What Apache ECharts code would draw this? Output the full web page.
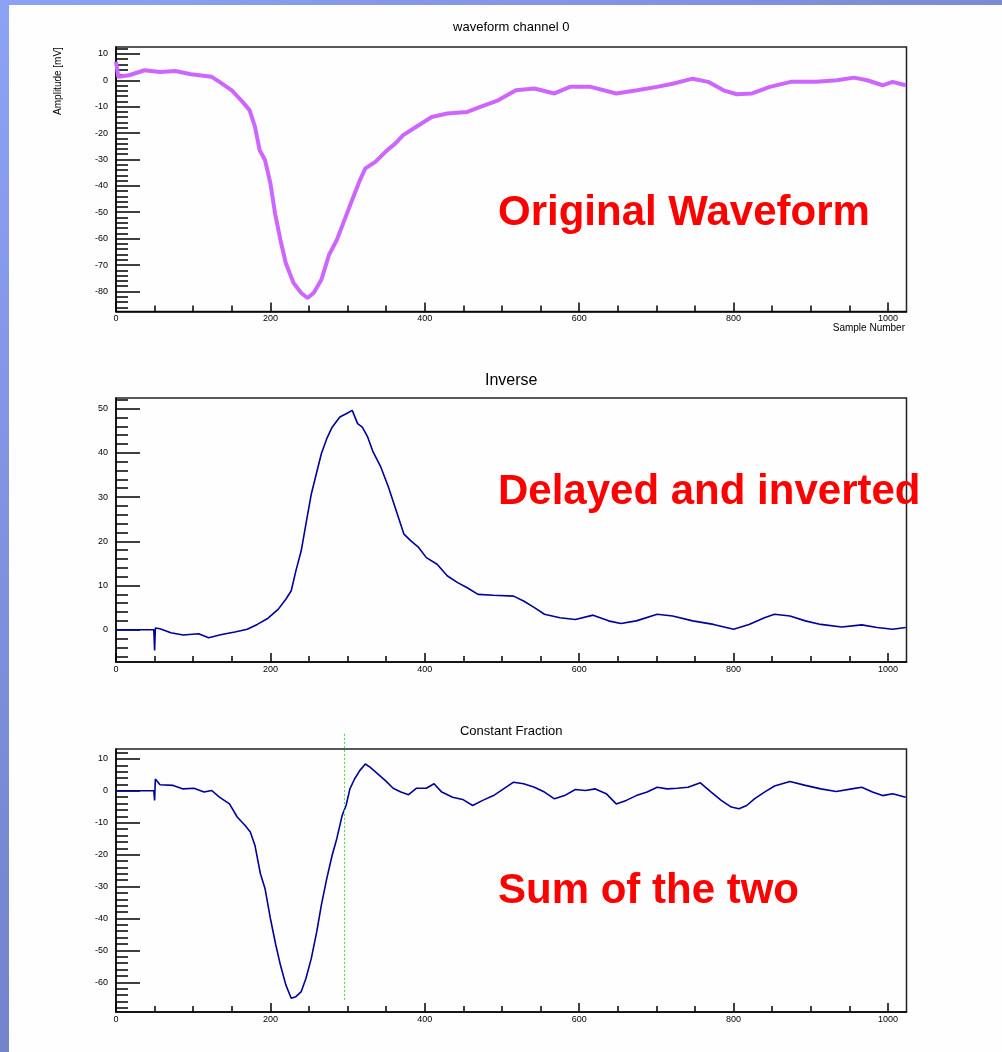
<!DOCTYPE html>
<html>
<head>
<meta charset="utf-8">
<title>waveform channel 0</title>
<script src="https://cdn.jsdelivr.net/npm/echarts@6/dist/echarts.min.js"></script>
<style>
  html, body { margin: 0; padding: 0; background: #fefefe; }
  #main { width: 1002px; height: 1052px; }
</style>
</head>
<body>
<div id="main"></div>
<script>
// values (sample number / amplitude in mV)
const waveX = [0, 3, 17, 37, 57, 77, 97, 124, 134, 150, 164, 173, 180, 186, 193, 200, 206, 213, 220, 230, 240, 248, 256, 266, 276, 286, 296, 306, 316, 323, 336, 349, 362, 372, 389, 409, 429, 455, 472, 495, 518, 542, 568, 588, 615, 648, 675, 701, 721, 747, 767, 787, 804, 824, 847, 874, 907, 934, 956, 973, 993, 1006, 1023];
const waveY = [7, 1.3, 1.9, 3.8, 3.1, 3.5, 2.3, 1.3, -0.6, -3.8, -8.2, -11.3, -17.6, -26.4, -30.2, -39, -50.4, -60.5, -69.3, -76.8, -80.6, -82.5, -80.6, -75.6, -66.1, -60.5, -52.9, -45.3, -37.8, -33.4, -30.9, -27.1, -23.9, -20.8, -17.6, -13.9, -12.6, -12, -10.1, -7.6, -3.8, -3.1, -5, -2.5, -2.5, -5, -3.8, -2.5, -1.3, 0.6, -0.6, -3.8, -5.3, -5, -2.5, -0.6, -0.6, 0, 1, 0, -1.9, -0.6, -1.9];

const invX = [0, 49, 50, 51, 57, 71, 87, 107, 120, 137, 154, 170, 183, 197, 210, 220, 227, 233, 240, 246, 253, 260, 266, 273, 280, 290, 300, 306, 313, 319, 326, 333, 343, 353, 363, 373, 382, 392, 402, 416, 429, 442, 455, 469, 489, 515, 528, 542, 555, 575, 595, 618, 638, 654, 674, 701, 721, 747, 774, 800, 820, 840, 853, 873, 893, 913, 940, 966, 986, 1006, 1023];
const invY = [0, 0, -4.7, 0.4, 0.2, -0.7, -1.2, -0.9, -1.8, -1.1, -0.5, 0.1, 1.2, 2.6, 4.6, 6.9, 8.8, 13.3, 17.9, 23.9, 30.7, 35.6, 39.8, 43.2, 45.8, 48.1, 49, 49.6, 46.6, 45.8, 43.6, 40.2, 36.8, 32.2, 26.9, 21.6, 20.1, 18.6, 16.3, 14.8, 12.2, 10.7, 9.5, 8, 7.8, 7.6, 6.5, 5, 3.5, 2.7, 2.3, 3.3, 2, 1.4, 2, 3.5, 3.1, 2, 1.2, 0.1, 1.2, 2.7, 3.5, 3.1, 2, 1.2, 0.6, 1.1, 0.5, 0.1, 0.5];

const cfdX = [0, 49, 50, 51, 57, 74, 87, 101, 114, 124, 134, 147, 157, 167, 174, 180, 187, 193, 200, 207, 213, 220, 227, 233, 240, 246, 253, 260, 266, 273, 280, 286, 293, 298, 303, 309, 316, 323, 329, 339, 349, 359, 369, 379, 389, 402, 412, 422, 436, 449, 462, 475, 489, 502, 515, 528, 542, 555, 568, 581, 595, 608, 621, 635, 648, 661, 674, 688, 701, 714, 727, 741, 757, 771, 784, 797, 807, 817, 827, 840, 853, 873, 893, 913, 933, 953, 966, 980, 993, 1006, 1023];
const cfdY = [0, 0, -3, 3.7, 1.9, 1.7, 0.6, 0.8, -0.4, 0.1, -2, -4.1, -8.2, -10.8, -12.9, -17.1, -25.9, -30.6, -40, -48.3, -54.6, -60.8, -65, -64.5, -62.9, -58.8, -52.5, -44.2, -35.8, -27.5, -20.2, -15, -7.7, -4.6, 0.6, 3.7, 6.4, 8.4, 7.4, 5.3, 3.2, 0.8, -0.4, -1.2, 0.8, 0.8, 2.2, -0.4, -2, -2.7, -4.6, -3, -1.5, 0.6, 2.7, 2.2, 1.1, -0.4, -2.5, -1.5, 0.4, 0.1, 0.6, -0.9, -4.1, -3, -1.5, -0.4, 1.1, 0.6, 0.8, 1.1, 2.5, -0.4, -3, -5.1, -5.6, -4.6, -2.5, -0.4, 1.5, 2.9, 1.7, 0.6, -0.2, 0.6, 1.1, -0.4, -1.5, -0.9, -2];

// zero crossing marker (green dotted line) on the constant fraction plot
const cfdCrossX = 296;
const cfdCrossY = [-65.5, 18.5];

// tick labels
const xMajor = [0, 200, 400, 600, 800, 1000];
const waveTicks = [-80, -70, -60, -50, -40, -30, -20, -10, 0, 10];
const invTicks = [0, 10, 20, 30, 40, 50];
const cfdTicks = [-60, -50, -40, -30, -20, -10, 0, 10];

const titles = ['waveform channel 0', 'Inverse', 'Constant Fraction'];
const notes = ['Original Waveform', 'Delayed and inverted', 'Sum of the two'];

const FONT = '"Liberation Sans", Arial, Helvetica, sans-serif';

const range = (a, b, s) => {
  const out = [];
  for (let v = a; v <= b + 1e-9; v += s) out.push(+v.toFixed(3));
  return out;
};
const zip = (xs, ys) => xs.map((x, i) => [x, ys[i]]);

// pad layout
const panels = [
  { top: 47, height: 264.5, yMin: -87.6, yMax: 12.6, major: waveTicks, titleY: 27, titleSize: 13, noteY: 213 },
  { top: 398, height: 264, yMin: -7.3, yMax: 52.4, major: invTicks, titleY: 381, titleSize: 16, noteY: 492 },
  { top: 749, height: 263, yMin: -69.3, yMax: 13.1, major: cfdTicks, titleY: 731, titleSize: 13, noteY: 891 }
];
const LEFT = 116;
const WIDTH = 790.5;

const tickStyle = { color: '#000', width: 1.5 };
const labelStyle = { fontSize: 9, color: '#000', fontFamily: FONT, formatter: v => String(v) };

const grids = [];
const xAxes = [];
const yAxes = [];

// main pads (frame, major ticks, labels)
panels.forEach((p, i) => {
  grids.push({ left: LEFT, top: p.top, width: WIDTH, height: p.height, show: true, borderColor: '#222', borderWidth: 1.5, backgroundColor: 'transparent' });
  xAxes.push({
    type: 'value', gridIndex: i, min: 0, max: 1024,
    axisLine: { show: true, onZero: false, lineStyle: tickStyle },
    axisTick: { show: true, inside: true, length: 9, customValues: xMajor, lineStyle: tickStyle },
    axisLabel: Object.assign({ show: true, customValues: xMajor, margin: 3 }, labelStyle),
    splitLine: { show: false }
  });
  yAxes.push({
    type: 'value', gridIndex: i, min: p.yMin, max: p.yMax,
    axisLine: { show: true, onZero: false, lineStyle: tickStyle },
    axisTick: { show: true, inside: true, length: 24, customValues: p.major, lineStyle: tickStyle },
    axisLabel: Object.assign({ show: true, customValues: p.major, margin: 8 }, labelStyle),
    splitLine: { show: false }
  });
});

// overlay pads for the minor ticks
panels.forEach((p, i) => {
  const gi = i + 3;
  grids.push({ left: LEFT, top: p.top, width: WIDTH, height: p.height, show: false });
  xAxes.push({
    type: 'value', gridIndex: gi, min: 0, max: 1024,
    axisLine: { show: false, onZero: false },
    axisTick: { show: true, inside: true, length: 6, customValues: range(50, 1000, 50), lineStyle: tickStyle },
    axisLabel: { show: false },
    splitLine: { show: false }
  });
  yAxes.push({
    type: 'value', gridIndex: gi, min: p.yMin, max: p.yMax,
    axisLine: { show: false, onZero: false },
    axisTick: { show: true, inside: true, length: 12, customValues: range(Math.ceil(p.yMin / 2) * 2, p.yMax, 2), lineStyle: tickStyle },
    axisLabel: { show: false },
    splitLine: { show: false }
  });
});

const graphic = [
  // slide background bars
  { type: 'rect', shape: { x: 0, y: 0, width: 1002, height: 5 }, silent: true,
    style: { fill: new echarts.graphic.LinearGradient(0, 0, 1, 0, [{ offset: 0, color: '#8ca2f4' }, { offset: 1, color: '#7c8ad6' }]) } },
  { type: 'rect', shape: { x: 0, y: 0, width: 9, height: 1052 }, silent: true,
    style: { fill: new echarts.graphic.LinearGradient(0, 0, 0, 1, [{ offset: 0, color: '#8ca2f4' }, { offset: 1, color: '#7383cc' }]) } },
  // axis titles of the first pad
  { type: 'text', x: 905, y: 328, silent: true,
    style: { text: 'Sample Number', align: 'right', verticalAlign: 'middle', font: '10px ' + FONT, fill: '#000' } },
  { type: 'text', x: 58, y: 81, rotation: Math.PI / 2, silent: true,
    style: { text: 'Amplitude [mV]', align: 'center', verticalAlign: 'middle', font: '10px ' + FONT, fill: '#000' } }
];
panels.forEach((p, i) => {
  graphic.push({ type: 'text', x: LEFT + WIDTH / 2, y: p.titleY, silent: true,
    style: { text: titles[i], align: 'center', verticalAlign: 'middle', font: p.titleSize + 'px ' + FONT, fill: '#000' } });
  graphic.push({ type: 'text', x: 498, y: p.noteY, silent: true, z: 100,
    style: { text: notes[i], align: 'left', verticalAlign: 'middle', font: 'bold 42px ' + FONT, fill: '#ff0000' } });
});

const option = {
  animation: false,
  backgroundColor: '#fefefe',
  grid: grids,
  xAxis: xAxes,
  yAxis: yAxes,
  graphic: graphic,
  series: [
    { type: 'line', xAxisIndex: 0, yAxisIndex: 0, data: zip(waveX, waveY), symbol: 'none', silent: true,
      lineStyle: { color: '#cc66ff', width: 4 } },
    { type: 'line', xAxisIndex: 1, yAxisIndex: 1, data: zip(invX, invY), symbol: 'none', silent: true,
      lineStyle: { color: '#000099', width: 1.6 } },
    { type: 'line', xAxisIndex: 2, yAxisIndex: 2, data: zip(cfdX, cfdY), symbol: 'none', silent: true,
      lineStyle: { color: '#000099', width: 1.6 } },
    { type: 'line', xAxisIndex: 2, yAxisIndex: 2, data: [[cfdCrossX, cfdCrossY[0]], [cfdCrossX, cfdCrossY[1]]], clip: false, symbol: 'none', silent: true,
      lineStyle: { color: '#44dd44', width: 1, type: [2, 2] } }
  ]
};

const chart = echarts.init(document.getElementById('main'));
chart.setOption(option);
window.addEventListener('resize', () => chart.resize());
</script>
</body>
</html>
